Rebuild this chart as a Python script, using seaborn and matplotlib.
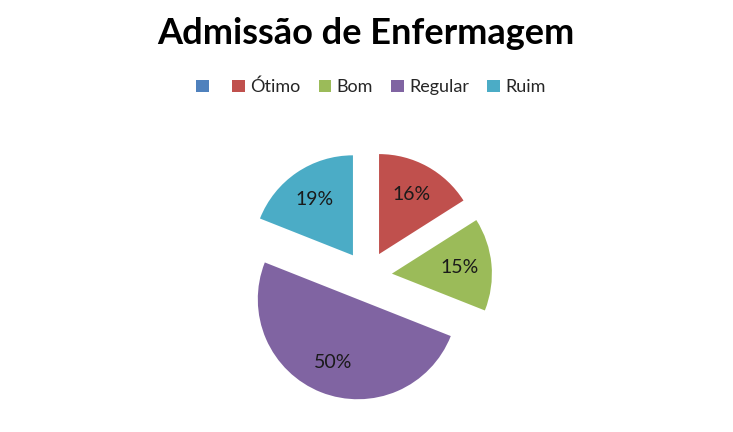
import matplotlib
matplotlib.use('Agg')
import matplotlib.pyplot as plt
import seaborn as sns

categorias = ['', 'Ótimo', 'Bom', 'Regular', 'Ruim']
valores = [0, 16, 15, 50, 19]
cores = ['#4F81BD', '#C0504D', '#9BBB59', '#8064A2', '#4BACC6']

sns.set_theme(style='white')
plt.rcParams['font.family'] = ['Lato', 'DejaVu Sans']

fig = plt.figure(figsize=(7.33, 4.32), dpi=100)
ax = fig.add_axes([(367 - 150) / 733, (156 - 150) / 432, 300 / 733, 300 / 432])

def rotulo(p):
    return '' if p < 0.5 else '%d%%' % round(p)

wedges, textos, pcts = ax.pie(valores, colors=cores, startangle=90, counterclock=False,
                              explode=[0.25] * len(valores), autopct=rotulo,
                              pctdistance=0.68, radius=1.0,
                              wedgeprops=dict(linewidth=0),
                              textprops=dict(fontsize=14, color='#1a1a1a'))
ax.set_xlim(-1.5, 1.5)
ax.set_ylim(-1.5, 1.5)
ax.set_aspect('equal')
ax.axis('off')

fig.text(366 / 733, 1 - 34 / 432, 'Admissão de Enfermagem', ha='center', va='center',
         fontsize=26, fontweight='bold', color='black')

fig.legend(wedges, categorias, loc='center', bbox_to_anchor=(371 / 733, 1 - 87 / 432),
           ncol=5, frameon=False, fontsize=13, handlelength=0.7, handleheight=0.7,
           handletextpad=0.3, columnspacing=1.0)

fig.savefig('out.png', dpi=100, facecolor='white')
